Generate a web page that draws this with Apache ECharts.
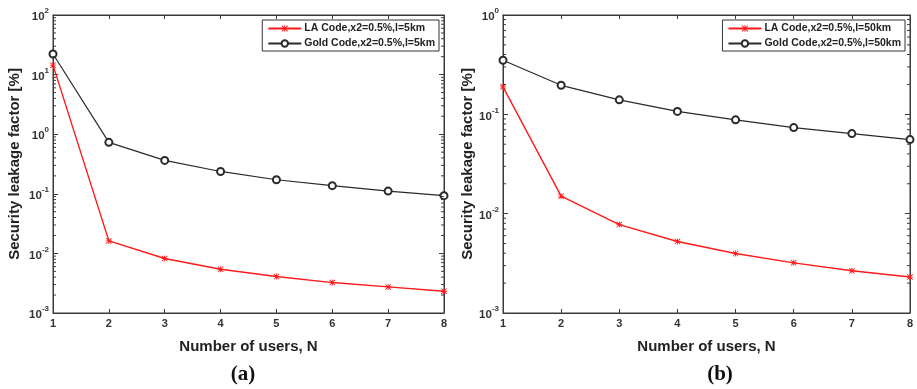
<!DOCTYPE html>
<html><head><meta charset="utf-8">
<script src="https://cdn.jsdelivr.net/npm/echarts@6/dist/echarts.min.js"></script>
<style>html,body{margin:0;padding:0;background:#fff}#c{width:917px;height:389px}</style>
</head><body><div id="c"></div>
<script>
const users = [1, 2, 3, 4, 5, 6, 7, 8];
const laA = [14.4, 0.0162, 0.0082, 0.00542, 0.00409, 0.00324, 0.00274, 0.00232];
const goldA = [22.2, 0.73, 0.363, 0.237, 0.172, 0.137, 0.111, 0.093];
const laB = [0.189, 0.0150, 0.00777, 0.00524, 0.00397, 0.0032, 0.00266, 0.0023];
const goldB = [0.35, 0.196, 0.14, 0.107, 0.088, 0.0735, 0.064, 0.0557];
const nameLA_A = 'LA Code,x2=0.5%,l=5km';
const nameGold_A = 'Gold Code,x2=0.5%,l=5km';
const nameLA_B = 'LA Code,x2=0.5%,l=50km';
const nameGold_B = 'Gold Code,x2=0.5%,l=50km';
const yRangeA = [0.001, 100];
const yRangeB = [0.001, 1];
const xTitle = 'Number of users, N';
const yTitle = 'Security leakage factor [%]';
const panelLabels = ['(a)', '(b)'];

const FONT = 'Liberation Sans, Arial, sans-serif';
const AX = '#3a3a3a';
const RED = '#ff1a1a';
const BLK = '#2a2a2a';
const asterisk = 'path://M4.3 0H5.7V10H4.3Z M0 4.3H10V5.7H0Z M0 1L1 0L10 9L9 10Z M9 0L10 1L1 10L0 9Z';

function pairs(ys) { return users.map((u, i) => [u, ys[i]]); }
function minorVals(r) {
  const out = [];
  for (let k = Math.round(Math.log10(r[0])); k < Math.round(Math.log10(r[1])); k++) {
    for (let m = 2; m <= 9; m++) out.push([users[0], m * Math.pow(10, k)]);
  }
  return out;
}
function yFmt(v) {
  const e = Math.round(Math.log10(v));
  return '{b|10}{s|' + e + '}';
}
const yLabel = {
  formatter: yFmt, margin: 4, color: '#333',
  rich: {
    b: { fontSize: 11.5, fontWeight: 'bold', fontFamily: FONT, color: '#333', lineHeight: 16, verticalAlign: 'bottom' },
    s: { fontSize: 8, fontWeight: 'bold', fontFamily: FONT, color: '#333', lineHeight: 16, verticalAlign: 'top' }
  }
};
function xMain(gi) {
  return { type: 'value', gridIndex: gi, min: 1, max: 8, interval: 1, position: 'bottom',
    axisLine: { lineStyle: { color: AX } }, axisTick: { inside: true, length: 4, lineStyle: { color: AX } },
    splitLine: { show: false },
    axisLabel: { fontSize: 11, fontWeight: 'bold', fontFamily: FONT, color: '#333', margin: 5 },
    name: xTitle, nameLocation: 'middle', nameGap: 26,
    nameTextStyle: { fontSize: 15, fontWeight: 'bold', fontFamily: FONT, color: '#222' } };
}
function xTop(gi) {
  return { type: 'value', gridIndex: gi, min: 1, max: 8, interval: 1, position: 'top',
    axisLine: { lineStyle: { color: AX } }, axisTick: { inside: true, length: 4, lineStyle: { color: AX } },
    splitLine: { show: false }, axisLabel: { show: false } };
}
function yMain(gi, r, gap) {
  return { type: 'log', logBase: 10, gridIndex: gi, min: r[0], max: r[1], position: 'left',
    axisLine: { show: true, lineStyle: { color: AX } }, axisTick: { show: true, inside: true, length: 5, lineStyle: { color: AX } },
    splitLine: { show: false }, axisLabel: yLabel,
    name: yTitle, nameLocation: 'middle', nameGap: gap, nameRotate: 90,
    nameTextStyle: { fontSize: 15, fontWeight: 'bold', fontFamily: FONT, color: '#222' } };
}
function yRight(gi, r) {
  return { type: 'log', logBase: 10, gridIndex: gi, min: r[0], max: r[1], position: 'right',
    axisLine: { show: true, lineStyle: { color: AX } }, axisTick: { show: true, inside: true, length: 5, lineStyle: { color: AX } },
    splitLine: { show: false }, axisLabel: { show: false } };
}
function minorSeries(xi, yi, r) {
  return { type: 'custom', xAxisIndex: xi, yAxisIndex: yi, data: minorVals(r), silent: true, z: 5,
    renderItem: function (params, api) {
      const v = api.value(1);
      const pL = api.coord([users[0], v]);
      const pR = api.coord([users[users.length - 1], v]);
      const st = { stroke: AX, lineWidth: 1 };
      return { type: 'group', children: [
        { type: 'line', shape: { x1: pL[0], y1: pL[1], x2: pL[0] + 3, y2: pL[1] }, style: st },
        { type: 'line', shape: { x1: pR[0], y1: pR[1], x2: pR[0] - 3, y2: pR[1] }, style: st }
      ] };
    } };
}
function lineSeries(name, xi, yi, ys, isLA) {
  return { type: 'line', name: name, xAxisIndex: xi, yAxisIndex: yi, data: pairs(ys),
    symbol: isLA ? asterisk : 'emptyCircle', symbolSize: isLA ? 6 : 7,
    lineStyle: { color: isLA ? RED : BLK, width: isLA ? 1.4 : 1.2 },
    itemStyle: { color: isLA ? RED : BLK, borderColor: isLA ? RED : BLK, borderWidth: isLA ? 0 : 1 },
    animation: false, z: isLA ? 3 : 4 };
}
function legend(names, right) {
  return { data: names, orient: 'vertical', right: right, top: 20, borderColor: '#333', borderWidth: 1,
    padding: [3, 4, 2, 5], itemGap: 4, itemWidth: 33, itemHeight: 8, backgroundColor: '#fff',
    textStyle: { fontSize: 10.5, fontWeight: 'bold', fontFamily: FONT, color: '#222', padding: [0, 0, 0, -2] } };
}

const chart = echarts.init(document.getElementById('c'), null, { renderer: 'canvas' });
chart.setOption({
  animation: false,
  backgroundColor: '#fff',
  title: [
    { text: panelLabels[0], left: 238, top: 359, textAlign: 'center',
      textStyle: { fontFamily: 'Liberation Serif, Times New Roman, serif', fontWeight: 'bold', fontSize: 21, color: '#111' } },
    { text: panelLabels[1], left: 715, top: 359, textAlign: 'center',
      textStyle: { fontFamily: 'Liberation Serif, Times New Roman, serif', fontWeight: 'bold', fontSize: 21, color: '#111' } }
  ],
  grid: [
    { left: 53, right: 473, top: 15, bottom: 76, show: true, borderColor: AX, borderWidth: 1 },
    { left: 503, right: 7, top: 15, bottom: 76, show: true, borderColor: AX, borderWidth: 1 }
  ],
  legend: [legend([nameLA_A, nameGold_A], 478), legend([nameLA_B, nameGold_B], 12)],
  xAxis: [xMain(0), xTop(0), xMain(1), xTop(1)],
  yAxis: [yMain(0, yRangeA, 31), yRight(0, yRangeA), yMain(1, yRangeB, 28), yRight(1, yRangeB)],
  series: [
    lineSeries(nameLA_A, 0, 0, laA, true),
    lineSeries(nameGold_A, 0, 0, goldA, false),
    lineSeries(nameLA_B, 2, 2, laB, true),
    lineSeries(nameGold_B, 2, 2, goldB, false),
    minorSeries(0, 0, yRangeA),
    minorSeries(2, 2, yRangeB)
  ]
});
</script></body></html>
